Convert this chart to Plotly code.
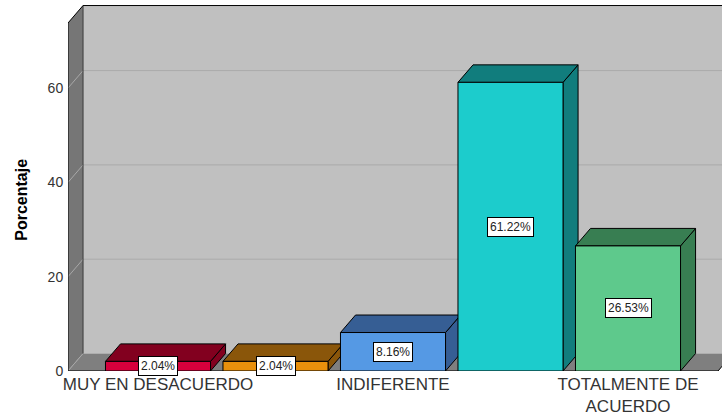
import plotly.graph_objects as go

# ---- data ----
categories = ["MUY EN DESACUERDO", "EN DESACUERDO", "INDIFERENTE",
              "DE ACUERDO", "TOTALMENTE DE ACUERDO"]
percentages = [2.04, 2.04, 8.16, 61.22, 26.53]
tick_shown = [True, False, True, False, True]
y_ticks = [0, 20, 40, 60]

front_colors = ["#d6003c", "#e8900c", "#5599e4", "#1ccccc", "#5ec98c"]
dark_colors = ["#82001f", "#8a560a", "#365e94", "#117d7d", "#387e52"]

# ---- geometry (data units) ----
X0, X1 = -0.766, 4.766       # floor front extent
XR = 5.2                     # beyond right edge
HALF = 0.447                 # half bar width
DX, DY = 0.128, 3.71         # 3D depth offset
YTOP = 73.8                  # wall height

fig = go.Figure()


def poly(xs, ys, fill, line="black", width=1):
    fig.add_trace(go.Scatter(
        x=list(xs) + [xs[0]], y=list(ys) + [ys[0]], mode="lines",
        fill="toself", fillcolor=fill,
        line=dict(color=line, width=width),
        hoverinfo="skip", showlegend=False))


def seg(xs, ys, color, width=1):
    fig.add_trace(go.Scatter(
        x=xs, y=ys, mode="lines", line=dict(color=color, width=width),
        hoverinfo="skip", showlegend=False))


# walls
poly([X0 + DX, XR, XR, X0 + DX], [DY, DY, YTOP + DY, YTOP + DY], "#c0c0c0", line="rgba(0,0,0,0)")
poly([X0, X0, X0 + DX, X0 + DX], [0, YTOP, YTOP + DY, DY], "#767676", line="rgba(0,0,0,0)")
poly([X0, X1, X1 + DX, XR, XR, X0 + DX], [0, 0, DY, DY, DY, DY], "#7f7f7f", line="rgba(0,0,0,0)")

# gridlines on walls
for v in y_ticks:
    if v > 0:
        seg([X0 + DX, XR], [v + DY, v + DY], "#aaaaaa")
    seg([X0, X0 + DX], [v, v + DY], "#a8a8a8")

# wall edges
seg([X0 + DX, X0 + DX], [DY, YTOP + DY], "#3a3a3a")
seg([X0, X0, X0 + DX, XR], [0, YTOP, YTOP + DY, YTOP + DY], "black")
seg([X0, X1, X1 + DX], [0, 0, DY], "black")

# bars
for i, v in enumerate(percentages):
    l, r = i - HALF, i + HALF
    poly([r, r + DX, r + DX, r], [0, DY, v + DY, v], dark_colors[i])
    poly([l, r, r + DX, l + DX], [v, v, v + DY, v + DY], dark_colors[i])
    poly([l, r, r, l], [0, 0, v, v], front_colors[i])
    fig.add_annotation(x=i, y=v / 2, text=f"{v:.2f}%", showarrow=False,
                       bgcolor="white", bordercolor="black", borderwidth=1,
                       borderpad=2, font=dict(family="Arial", size=12, color="#222"))

fig.add_annotation(xref="paper", yref="paper", x=-0.0703, y=0.468,
                   xanchor="center", yanchor="middle",
                   text="<b>Porcentaje</b>", textangle=-90, showarrow=False,
                   font=dict(family="Arial", size=16, color="black"))

ticktext = [c.replace("TOTALMENTE DE ", "TOTALMENTE DE<br>") if s else ""
            for c, s in zip(categories, tick_shown)]

fig.update_layout(
    width=722, height=415,
    margin=dict(l=68, r=0, t=5, b=44, autoexpand=False),
    paper_bgcolor="white", plot_bgcolor="white",
    xaxis=dict(range=[X0, X0 + 654 / 117.5], tickvals=list(range(len(categories))),
               ticktext=ticktext, showgrid=False, zeroline=False, showline=False,
               automargin=False, ticks="", ticklabelstandoff=1,
               tickfont=dict(family="Arial", size=17, color="#333")),
    yaxis=dict(range=[0, 366 / 4.715], tickvals=y_ticks, showgrid=False,
               zeroline=False, showline=False, automargin=False,
               ticks="outside", ticklen=1, tickcolor="rgba(0,0,0,0)",
               tickfont=dict(family="Arial", size=14, color="#333")),
)

fig.write_html("out.html", config={"displayModeBar": False},
               post_script="document.body.style.margin='0';document.body.style.padding='0';")
